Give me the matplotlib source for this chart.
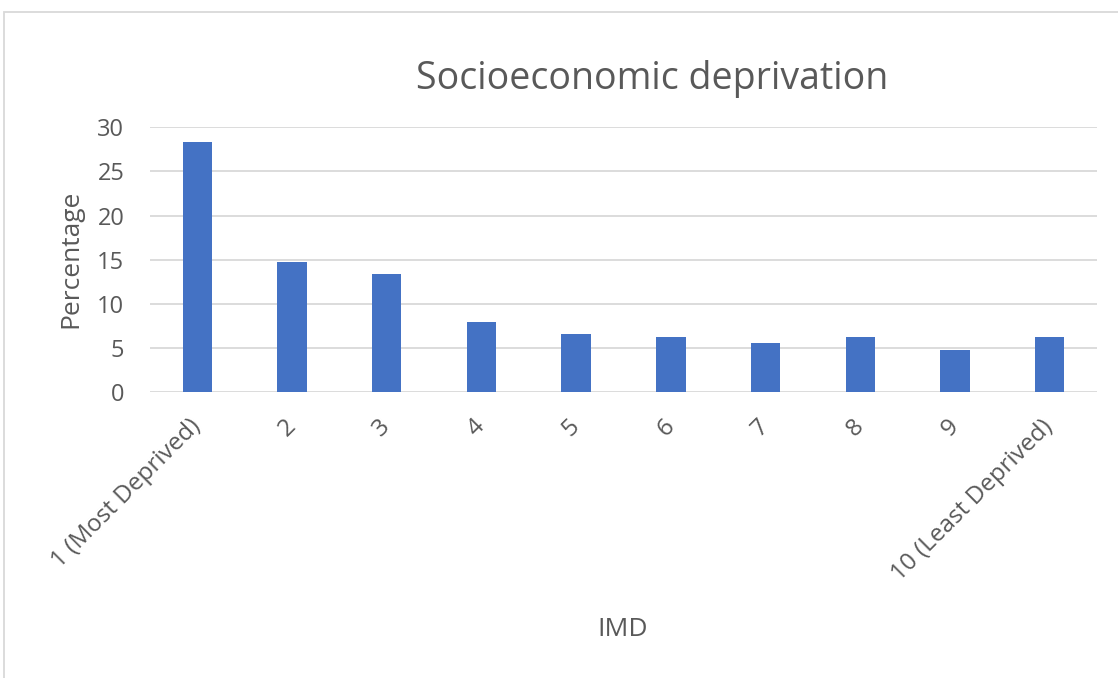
import matplotlib
matplotlib.use("Agg")
import matplotlib.pyplot as plt
from matplotlib.patches import Rectangle

categories = ["1 (Most Deprived)", "2", "3", "4", "5", "6", "7", "8", "9", "10 (Least Deprived)"]
percentages = [28.3, 14.7, 13.35, 7.95, 6.6, 6.25, 5.6, 6.25, 4.75, 6.25]
y_ticks = [0, 5, 10, 15, 20, 25, 30]

plt.rcParams['font.family'] = ['Open Sans', 'DejaVu Sans']
TXT = '#595959'
GRID = '#d9d9d9'
W, H = 1118, 678
fig = plt.figure(figsize=(W / 100, H / 100), dpi=100)
fig.patch.set_facecolor('white')

ax = fig.add_axes([150 / W, 1 - 392 / H, (1097 - 150) / W, (392 - 127.3) / H])
x = list(range(len(categories)))
ax.bar(x, percentages, width=0.31, color='#4472C4', zorder=3)
ax.set_xlim(-0.5, len(categories) - 0.5)
ax.set_ylim(0, 30)
ax.set_yticks(y_ticks)
ax.set_yticklabels([str(v) for v in y_ticks])
for v in y_ticks:
    ax.axhline(v, color=GRID, lw=1.3, zorder=1)
for s in ax.spines.values():
    s.set_visible(False)
ax.tick_params(axis='y', length=0, pad=18.5, labelsize=17, labelcolor=TXT)
ax.tick_params(axis='x', length=0, pad=22.5, labelsize=17.5, labelcolor=TXT)
ax.set_xticks(x)
ax.set_xticklabels(categories, rotation=45, ha='right', va='center', rotation_mode='anchor')

fig.text(652 / W, 1 - 89 / H, 'Socioeconomic deprivation', ha='center', va='baseline',
         fontsize=27, color=TXT)
fig.text(70.5 / W, 1 - 259 / H, 'Percentage', rotation=90, ha='center', va='center',
         fontsize=19, color=TXT)
fig.text(623 / W, 1 - 629 / H, 'IMD', ha='center', va='center', fontsize=19, color=TXT)

fig.patches.append(Rectangle((4 / W, -0.1), 1.2, 1.1 - 12 / H, transform=fig.transFigure,
                             fill=False, edgecolor=GRID, lw=1.3))

fig.savefig('out.png', dpi=100)
